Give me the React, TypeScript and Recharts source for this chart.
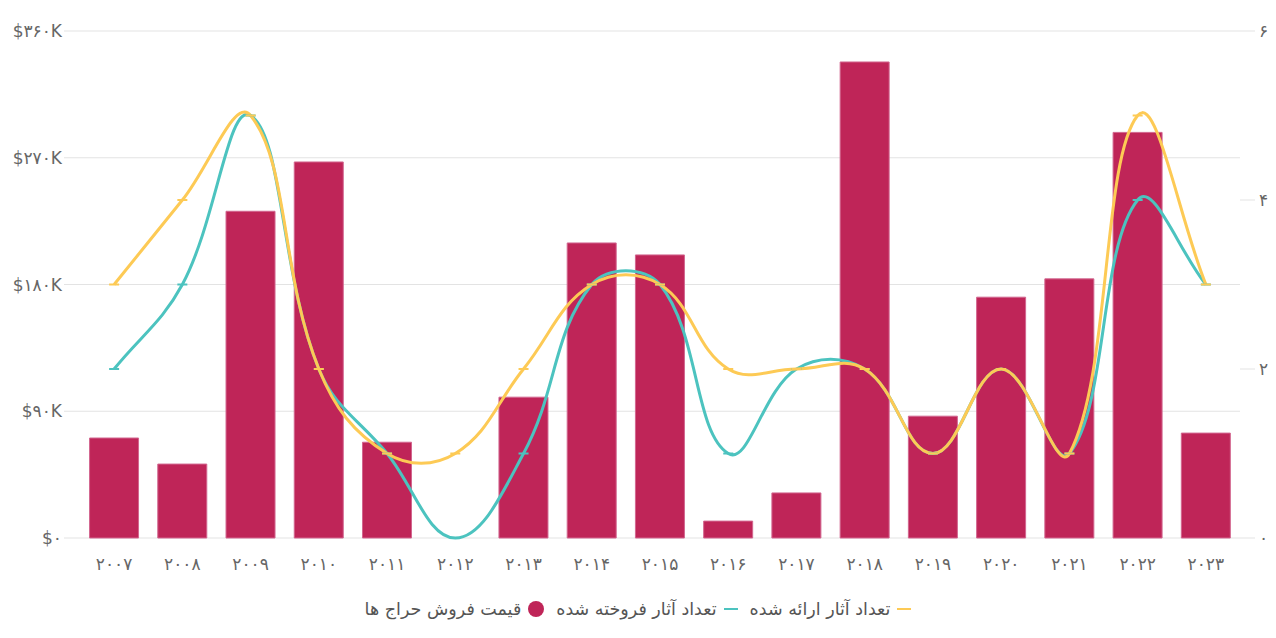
import React from "react";
import { ComposedChart, Bar, Line, XAxis, YAxis, CartesianGrid } from "recharts";

const years = ["2007", "2008", "2009", "2010", "2011", "2012", "2013", "2014", "2015", "2016", "2017", "2018", "2019", "2020", "2021", "2022", "2023"];
const auctionPrice = [71000, 52500, 232000, 267000, 68000, 0, 100000, 209500, 201000, 12000, 32000, 338000, 86500, 171000, 184000, 288000, 74500];
const soldCount = [2, 3, 5, 2, 1, 0, 1, 3, 3, 1, 2, 2, 1, 2, 1, 4, 3];
const offeredCount = [3, 4, 5, 2, 1, 1, 2, 3, 3, 2, 2, 2, 1, 2, 1, 5, 3];
const priceTicks = [0, 90000, 180000, 270000, 360000];
const countTicks = [0, 2, 4, 6];

const labels = {
  price: "قیمت فروش حراج ها",
  sold: "تعداد آثار فروخته شده",
  offered: "تعداد آثار ارائه شده",
};

const colors = { bar: "#bf2558", barStroke: "#d2668f", sold: "#4cc3bf", offered: "#fdca55", text: "#666666", grid: "#e3e3e3" };

const fa = (s: string | number) => String(s).replace(/\d/g, (d) => "۰۱۲۳۴۵۶۷۸۹"[Number(d)]);

const data = years.map((y, i) => ({ year: y, price: auctionPrice[i], sold: soldCount[i], offered: offeredCount[i] }));

const font = "'DejaVu Sans', sans-serif";

// spline with distance-weighted control points (tension 0.4)
const splineCurve = (tension: number) => (context: any) => {
  let pts: number[][] = [];
  return {
    areaStart() {},
    areaEnd() {},
    lineStart() {
      pts = [];
    },
    point(x: number, y: number) {
      pts.push([+x, +y]);
    },
    lineEnd() {
      const n = pts.length;
      if (!n) return;
      const cps = pts.map((p, i) => {
        const prev = pts[i - 1] || p;
        const next = pts[i + 1] || p;
        const d01 = Math.hypot(p[0] - prev[0], p[1] - prev[1]);
        const d12 = Math.hypot(next[0] - p[0], next[1] - p[1]);
        let s01 = d01 / (d01 + d12);
        let s12 = d12 / (d01 + d12);
        if (isNaN(s01)) s01 = 0;
        if (isNaN(s12)) s12 = 0;
        const a = tension * s01;
        const b = tension * s12;
        const dx = next[0] - prev[0];
        const dy = next[1] - prev[1];
        return { before: [p[0] - a * dx, p[1] - a * dy], after: [p[0] + b * dx, p[1] + b * dy] };
      });
      context.moveTo(pts[0][0], pts[0][1]);
      for (let i = 1; i < n; i++) {
        context.bezierCurveTo(cps[i - 1].after[0], cps[i - 1].after[1], cps[i].before[0], cps[i].before[1], pts[i][0], pts[i][1]);
      }
    },
  };
};

const dash = (color: string) => (props: any) => {
  const { cx, cy, index } = props;
  if (cx == null || cy == null) return <g key={index} />;
  return <line key={index} x1={cx - 5} x2={cx + 5} y1={cy} y2={cy} stroke={color} strokeWidth={2} />;
};

export default function App() {
  return (
    <div style={{ position: "absolute", left: 0, top: 0, width: 1276, height: 638, background: "#fff", fontFamily: font }}>
      <ComposedChart width={1276} height={578} data={data} margin={{ top: 31, right: 0, bottom: 0, left: 0 }} barCategoryGap="14%">
        <CartesianGrid vertical={false} stroke={colors.grid} yAxisId="left" />
        <XAxis
          dataKey="year"
          tickFormatter={fa}
          tickLine={false}
          axisLine={false}
          height={40}
          tickMargin={14}
          tick={{ fill: colors.text, fontSize: 17, fontFamily: font }}
        />
        <YAxis
          yAxisId="left"
          width={80}
          domain={[0, 360000]}
          ticks={priceTicks}
          tickFormatter={(v: number) => (v === 0 ? "$" + fa(0) : "$" + fa(v / 1000) + "K")}
          axisLine={false}
          tickSize={16}
          tickMargin={2}
          tickLine={{ stroke: colors.grid }}
          tick={{ fill: colors.text, fontSize: 17, fontFamily: font }}
        />
        <YAxis
          yAxisId="right"
          orientation="right"
          width={36}
          domain={[0, 6]}
          ticks={countTicks}
          tickFormatter={fa}
          axisLine={false}
          tickSize={15}
          tickMargin={4}
          tickLine={{ stroke: colors.grid }}
          tick={{ fill: colors.text, fontSize: 17, fontFamily: font }}
        />
        <Bar yAxisId="left" dataKey="price" fill={colors.bar} stroke={colors.barStroke} strokeWidth={1} isAnimationActive={false} />
        <Line
          yAxisId="right"
          type={splineCurve(0.4) as any}
          dataKey="sold"
          stroke={colors.sold}
          strokeWidth={3}
          dot={dash(colors.sold)}
          activeDot={false}
          isAnimationActive={false}
        />
        <Line
          yAxisId="right"
          type={splineCurve(0.4) as any}
          dataKey="offered"
          stroke={colors.offered}
          strokeWidth={3}
          dot={dash(colors.offered)}
          activeDot={false}
          isAnimationActive={false}
        />
      </ComposedChart>
      <div
        dir="rtl"
        style={{ position: "absolute", top: 598, left: 0, width: 1276, display: "flex", justifyContent: "center", gap: 12, fontSize: 17.5, lineHeight: "22px", color: "#555", fontFamily: font }}
      >
        {[
          { key: "offered", label: labels.offered, color: colors.offered, line: true },
          { key: "sold", label: labels.sold, color: colors.sold, line: true },
          { key: "price", label: labels.price, color: colors.bar, line: false },
        ].map((it) => (
          <div key={it.key} style={{ display: "flex", alignItems: "center", gap: 7 }}>
            {it.line ? (
              <span style={{ display: "inline-block", width: 14, height: 2, background: it.color }} />
            ) : (
              <span style={{ display: "inline-block", width: 16, height: 16, borderRadius: "50%", background: it.color }} />
            )}
            <span>{it.label}</span>
          </div>
        ))}
      </div>
    </div>
  );
}
